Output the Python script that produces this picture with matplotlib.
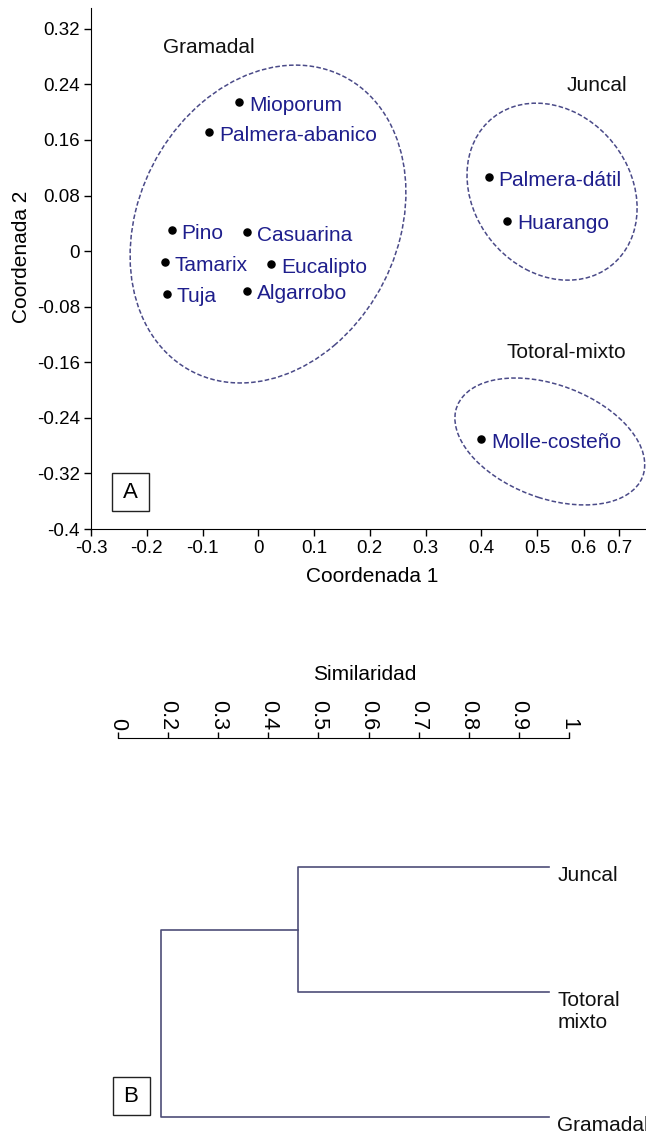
import matplotlib
matplotlib.use("Agg")
import matplotlib.pyplot as plt
from matplotlib.patches import Ellipse, Rectangle

plt.rcParams["font.family"] = ["Liberation Sans", "DejaVu Sans"]

# ─── DATOS ───────────────────────────────────────────────────
# Panel A : ordenación (Coordenada 1 / Coordenada 2)
especies = ["Mioporum", "Palmera-abanico", "Pino", "Casuarina", "Tamarix",
            "Eucalipto", "Tuja", "Algarrobo", "Palmera-dátil", "Huarango",
            "Molle-costeño"]
coord1 = [-0.034, -0.088, -0.155, -0.020, -0.167, 0.023, -0.164, -0.020,
          0.413, 0.447, 0.400]
coord2 = [0.214, 0.171, 0.030, 0.027, -0.016, -0.019, -0.061, -0.057,
          0.106, 0.044, -0.271]

# grupos : centro, ancho, alto, ángulo (unidades de datos)
grupos = ["Gramadal", "Juncal", "Totoral-mixto"]
grupo_cx = [0.0175, 0.527, 0.523]
grupo_cy = [0.039, 0.0856, -0.274]
grupo_w = [0.525, 0.315, 0.349]
grupo_h = [0.4225, 0.2425, 0.166]
grupo_ang = [34.3, -22.9, -14.4]
grupo_lbl_x = [-0.171, 0.553, 0.445]
grupo_lbl_y = [0.293, 0.239, -0.146]

xticks_val = [-0.3, -0.2, -0.1, 0, 0.1, 0.2, 0.3, 0.4, 0.5, 0.584, 0.647]
xticks_lbl = ["-0.3", "-0.2", "-0.1", "0", "0.1", "0.2", "0.3", "0.4",
              "0.5", "0.6", "0.7"]
yticks_val = [0.32, 0.24, 0.16, 0.08, 0, -0.08, -0.16, -0.24, -0.32, -0.4]
yticks_lbl = ["0.32", "0.24", "0.16", "0.08", "0", "-0.08", "-0.16",
              "-0.24", "-0.32", "-0.4"]

# Panel B : dendrograma (similaridad)
hojas = ["Juncal", "Totoral\nmixto", "Gramadal"]
sim_nodo = 0.47     # Juncal + Totoral-mixto
sim_raiz = 0.18     # + Gramadal
sim_ticks_val = [0.1, 0.2, 0.3, 0.4, 0.5, 0.6, 0.7, 0.8, 0.9, 1.0]
sim_ticks_lbl = ["0", "0.2", "0.3", "0.4", "0.5", "0.6", "0.7", "0.8",
                 "0.9", "1"]

AZUL = "#1e1e8c"
ELIPSE = "#4a4a88"
RAMA = "#4e4e78"
FS = 15
FS_TICK = 13.5

fig = plt.figure(figsize=(6.46, 11.36), dpi=100)

# ═══════════════════════════════════════════════════════════════
# A. ORDENACIÓN
# ═══════════════════════════════════════════════════════════════
ax = fig.add_axes([91 / 646, 607 / 1136, 555 / 646, 521 / 1136])
ax.set_xlim(-0.3, 0.6955)
ax.set_ylim(-0.4, 0.35)
for s in ["top", "right"]:
    ax.spines[s].set_visible(False)
ax.set_xticks(xticks_val)
ax.set_xticklabels(xticks_lbl)
ax.set_yticks(yticks_val)
ax.set_yticklabels(yticks_lbl)
ax.tick_params(labelsize=FS_TICK, length=5, width=1, pad=3)

ax.scatter(coord1, coord2, s=26, color="black", zorder=3)
for nom, x, y in zip(especies, coord1, coord2):
    ax.annotate(nom, (x, y), xytext=(7, -2), textcoords="offset points",
                va="center", ha="left", color=AZUL, fontsize=FS)

for i, g in enumerate(grupos):
    ax.add_patch(Ellipse((grupo_cx[i], grupo_cy[i]), grupo_w[i], grupo_h[i],
                         angle=grupo_ang[i], fill=False, edgecolor=ELIPSE,
                         linestyle=(0, (3, 1.5)), linewidth=1.1, clip_on=False))
    ax.text(grupo_lbl_x[i], grupo_lbl_y[i], g, ha="left", va="center",
            fontsize=FS, color="#111111")

ax.set_xlabel("Coordenada 1", fontsize=FS)
ax.xaxis.set_label_coords(0.506, -0.072)
ax.set_ylabel("Coordenada 2", fontsize=FS)
ax.yaxis.set_label_coords(-0.108, 0.522)

# ═══════════════════════════════════════════════════════════════
# B. DENDROGRAMA
# ═══════════════════════════════════════════════════════════════
# escala de similaridad
axs = fig.add_axes([118 / 646, 397 / 1136, 451 / 646, 0.0005])
axs.set_xlim(0.1, 1.0)
for s in ["bottom", "left", "right"]:
    axs.spines[s].set_visible(False)
axs.set_yticks([])
axs.xaxis.tick_top()
axs.set_xticks(sim_ticks_val)
axs.set_xticklabels(sim_ticks_lbl, rotation=270)
axs.tick_params(labelsize=FS + 0.5, length=4, width=1, pad=2)
fig.text(365 / 646, 1 - 675 / 1136, "Similaridad", ha="center", va="center",
         fontsize=FS)

# árbol
axt = fig.add_axes([0, 0, 1, 316 / 1136])
axt.set_xlim(-0.160, 1.205)
axt.set_ylim(2.152, -0.376)
axt.axis("off")
y_hoja = list(range(len(hojas)))
y_nodo = (y_hoja[0] + y_hoja[1]) / 2
kw = dict(color=RAMA, linewidth=1.2)
axt.plot([1.0, sim_nodo, sim_nodo, 1.0],
         [y_hoja[0], y_hoja[0], y_hoja[1], y_hoja[1]], **kw)
axt.plot([sim_nodo, sim_raiz, sim_raiz, 1.0],
         [y_nodo, y_nodo, y_hoja[2], y_hoja[2]], **kw)
for nom, y in zip(hojas, y_hoja):
    axt.annotate(nom, (1.0, y), xytext=(6, 1), textcoords="offset points",
                 ha="left", va="top", fontsize=FS, color="#111111",
                 annotation_clip=False)

# recuadros A / B
for letra, cx, cy in [("A", 130, 492), ("B", 131, 1096)]:
    fig.patches.append(Rectangle(((cx - 18) / 646, 1 - (cy + 19) / 1136),
                                 37 / 646, 38 / 1136, fill=False,
                                 edgecolor="#222222", linewidth=1,
                                 transform=fig.transFigure))
    fig.text(cx / 646, 1 - cy / 1136, letra, ha="center", va="center",
             fontsize=FS + 1)

plt.savefig("out.png", dpi=100)
